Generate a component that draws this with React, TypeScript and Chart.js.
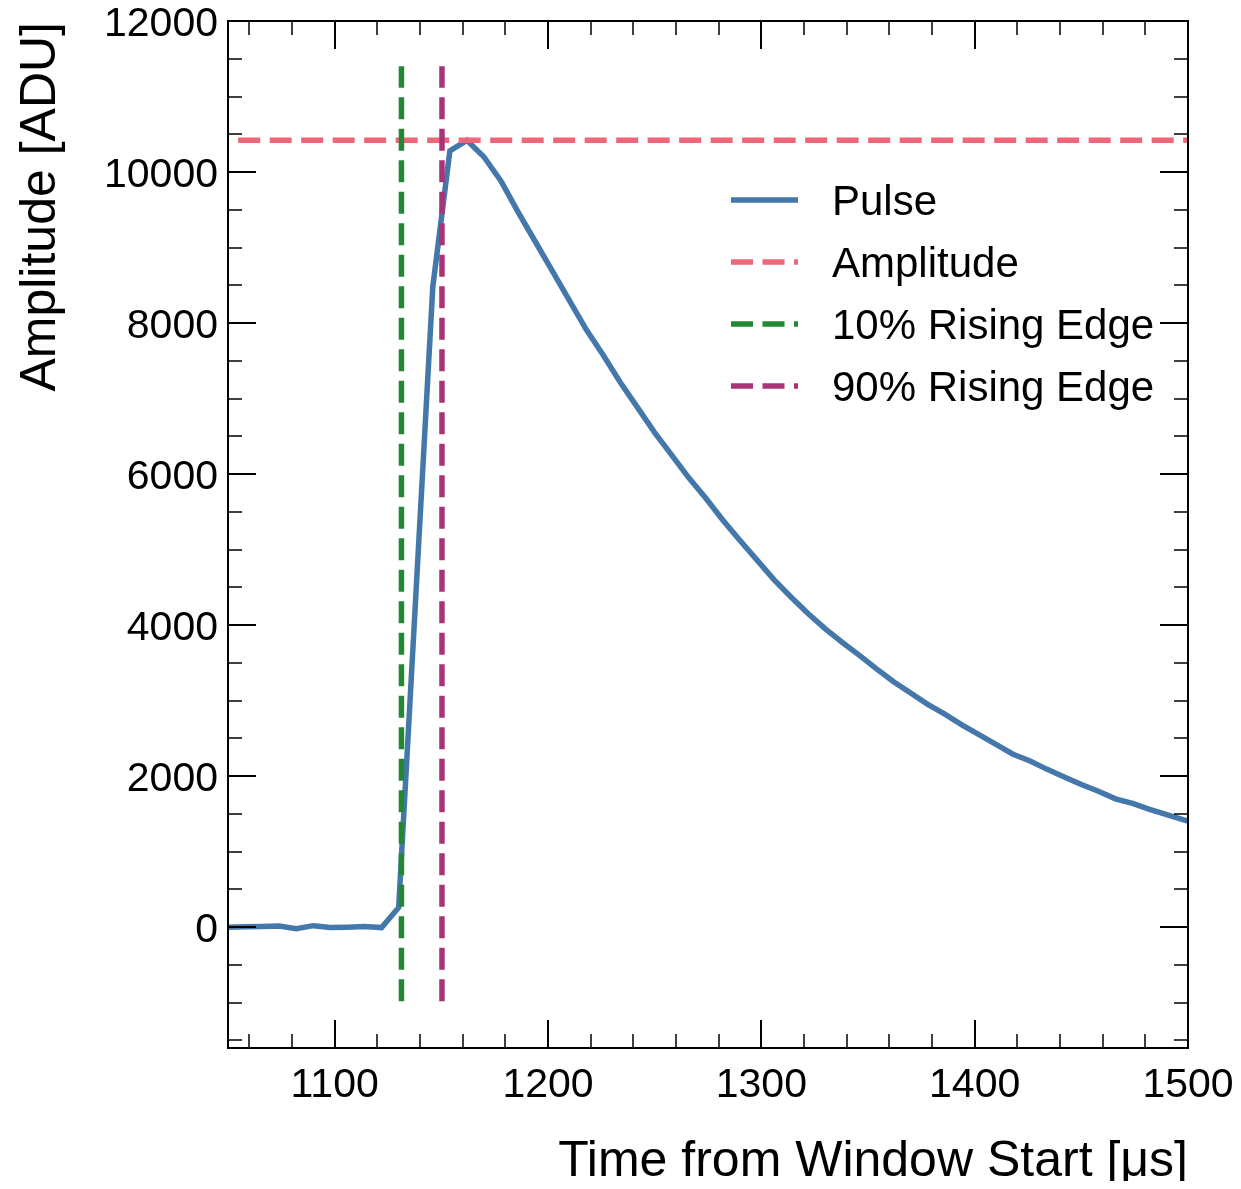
import React, { useEffect, useRef } from "react";
import { Chart, registerables } from "chart.js";

Chart.register(...registerables);

// ---- data ----
const pulseTimes = [
  1050, 1058, 1066, 1074, 1082, 1090, 1098, 1106, 1114, 1122,
  1130, 1138, 1146, 1154, 1162, 1170, 1178, 1186, 1194, 1202,
  1210, 1218, 1226, 1234, 1242, 1250, 1258, 1266, 1274, 1282,
  1290, 1298, 1306, 1314, 1322, 1330, 1338, 1346, 1354, 1362,
  1370, 1378, 1386, 1394, 1402, 1410, 1418, 1426, 1434, 1442,
  1450, 1458, 1466, 1474, 1482, 1490, 1498, 1506,
];
const pulseValues = [
  0, 5, 10, 15, -20, 20, -5, 0, 10, -5,
  260, 4370, 8480, 10280, 10420, 10200, 9880, 9470, 9080, 8690,
  8300, 7910, 7570, 7210, 6880, 6550, 6250, 5950, 5680, 5390,
  5120, 4860, 4600, 4370, 4150, 3950, 3770, 3600, 3420, 3250,
  3100, 2950, 2820, 2680, 2550, 2420, 2290, 2200, 2090, 1990,
  1890, 1800, 1700, 1640, 1560, 1490, 1420, 1360,
];
const amplitudeValue = 10420;
const rise10Time = 1131.3;
const rise90Time = 1150.3;
const verticalLineSpan = [-980, 11400];
const amplitudeSpan = [1040, 1510];

const xLimits = [1050, 1500];
const yLimits = [-1600, 12000];
const xMajorTicks = [1100, 1200, 1300, 1400, 1500];
const yMajorTicks = [0, 2000, 4000, 6000, 8000, 10000, 12000];
const xMinorStep = 20;
const yMinorStep = 500;

const legendLabels = ["Pulse", "Amplitude", "10% Rising Edge", "90% Rising Edge"];
const colors = ["#4477AA", "#EE6677", "#228833", "#AA3377"];
const xTitle = "Time from Window Start [μs]";
const yTitle = "Amplitude [ADU]";

const FONT = '"Liberation Sans", Arial, Helvetica, sans-serif';
const DASH = [22, 9.5];

const decoPlugin = {
  id: "deco",
  afterDraw(chart: any) {
    const { ctx, chartArea, scales } = chart;
    const xs = scales.x;
    const ys = scales.y;
    const { left, right, top, bottom } = chartArea;
    ctx.save();
    ctx.strokeStyle = "#000";
    ctx.fillStyle = "#000";

    // minor ticks
    ctx.lineWidth = 1.5;
    ctx.beginPath();
    for (let v = Math.ceil(xLimits[0] / xMinorStep) * xMinorStep; v <= xLimits[1]; v += xMinorStep) {
      if (v % 100 === 0) continue;
      const px = Math.round(xs.getPixelForValue(v));
      ctx.moveTo(px, bottom); ctx.lineTo(px, bottom - 14);
      ctx.moveTo(px, top); ctx.lineTo(px, top + 14);
    }
    for (let v = Math.ceil(yLimits[0] / yMinorStep) * yMinorStep; v <= yLimits[1]; v += yMinorStep) {
      if (v % 2000 === 0) continue;
      const py = Math.round(ys.getPixelForValue(v));
      ctx.moveTo(left, py); ctx.lineTo(left + 14, py);
      ctx.moveTo(right, py); ctx.lineTo(right - 14, py);
    }
    ctx.stroke();

    // major ticks
    ctx.lineWidth = 2;
    ctx.beginPath();
    xMajorTicks.forEach((v) => {
      const px = Math.round(xs.getPixelForValue(v));
      ctx.moveTo(px, bottom); ctx.lineTo(px, bottom - 28);
      ctx.moveTo(px, top); ctx.lineTo(px, top + 28);
    });
    yMajorTicks.forEach((v) => {
      const py = Math.round(ys.getPixelForValue(v));
      ctx.moveTo(left, py); ctx.lineTo(left + 28, py);
      ctx.moveTo(right, py); ctx.lineTo(right - 28, py);
    });
    ctx.stroke();

    // frame
    ctx.lineWidth = 2;
    ctx.strokeRect(left, top, right - left, bottom - top);

    // tick labels
    ctx.font = `41px ${FONT}`;
    ctx.textBaseline = "alphabetic";
    ctx.textAlign = "center";
    xMajorTicks.forEach((v) => {
      ctx.fillText(String(v), xs.getPixelForValue(v), bottom + 49);
    });
    ctx.textAlign = "right";
    yMajorTicks.forEach((v) => {
      ctx.fillText(String(v), left - 10, ys.getPixelForValue(v) + 15);
    });

    // axis titles
    ctx.font = `50px ${FONT}`;
    ctx.textAlign = "right";
    ctx.fillText(xTitle, right, bottom + 128);
    ctx.save();
    ctx.translate(left - 173, top + 1);
    ctx.rotate(-Math.PI / 2);
    ctx.textAlign = "right";
    ctx.fillText(yTitle, 0, 0);
    ctx.restore();

    // legend
    ctx.font = `42px ${FONT}`;
    ctx.textAlign = "left";
    legendLabels.forEach((label, i) => {
      const yy = top + 179 + i * 62;
      ctx.save();
      ctx.strokeStyle = colors[i];
      ctx.lineWidth = 5.5;
      ctx.setLineDash(i === 0 ? [] : DASH);
      ctx.beginPath();
      ctx.moveTo(left + 503, yy);
      ctx.lineTo(left + 570, yy);
      ctx.stroke();
      ctx.restore();
      ctx.fillText(label, left + 604, yy + 15);
    });
    ctx.restore();
  },
};

export default function App() {
  const canvasRef = useRef<HTMLCanvasElement | null>(null);

  useEffect(() => {
    const canvas = canvasRef.current;
    if (!canvas) return;
    const pulseData = pulseTimes.map((t, i) => ({ x: t, y: pulseValues[i] }));
    const chart = new Chart(canvas, {
      type: "line",
      data: {
        datasets: [
          {
            label: legendLabels[0],
            data: pulseData,
            borderColor: colors[0],
            borderWidth: 5.5,
            pointRadius: 0,
            tension: 0,
            order: 3,
            clip: 0,
          },
          {
            label: legendLabels[1],
            data: amplitudeSpan.map((t) => ({ x: t, y: amplitudeValue })),
            borderColor: colors[1],
            borderWidth: 5.5,
            borderDash: DASH,
            pointRadius: 0,
            order: 2,
            clip: 0,
          },
          {
            label: legendLabels[2],
            data: verticalLineSpan.map((v) => ({ x: rise10Time, y: v })),
            borderColor: colors[2],
            borderWidth: 5.5,
            borderDash: DASH,
            pointRadius: 0,
            order: 1,
            clip: 0,
          },
          {
            label: legendLabels[3],
            data: verticalLineSpan.map((v) => ({ x: rise90Time, y: v })),
            borderColor: colors[3],
            borderWidth: 5.5,
            borderDash: DASH,
            pointRadius: 0,
            order: 0,
            clip: 0,
          },
        ] as any,
      },
      options: {
        animation: false,
        responsive: false,
        devicePixelRatio: 1,
        layout: { padding: { left: 220, top: 13, right: 45, bottom: 141 } },
        plugins: { legend: { display: false }, tooltip: { enabled: false } },
        scales: {
          x: { type: "linear", min: xLimits[0], max: xLimits[1], display: false },
          y: { type: "linear", min: yLimits[0], max: yLimits[1], display: false },
        },
      } as any,
      plugins: [decoPlugin],
    });
    return () => chart.destroy();
  }, []);

  return (
    <div style={{ width: 1225, height: 1173, overflow: "visible" }}>
      <canvas ref={canvasRef} width={1225} height={1181} style={{ display: "block", width: 1225, height: 1181 }} />
    </div>
  );
}
